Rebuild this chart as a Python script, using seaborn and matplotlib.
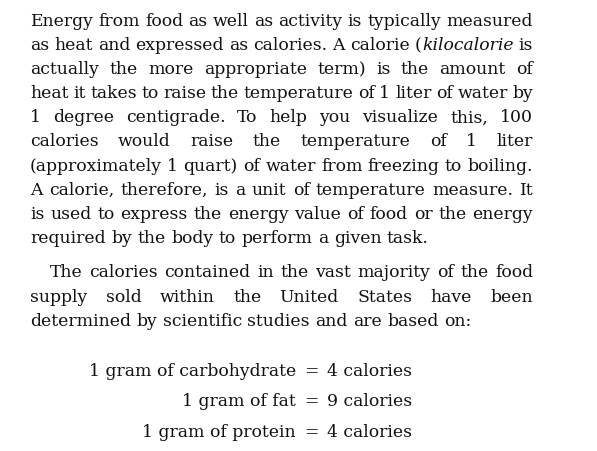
import matplotlib
matplotlib.use("Agg")
import matplotlib.pyplot as plt
import seaborn as sns

sns.set_theme(style="white")
plt.rcParams['font.family'] = ['DejaVu Serif']

para_lines = [
    ("Energy from food as well as activity is typically measured", True),
    ("as heat and expressed as calories. A calorie (*kilocalorie* is", True),
    ("actually the more appropriate term) is the amount of", True),
    ("heat it takes to raise the temperature of 1 liter of water by", True),
    ("1 degree centigrade. To help you visualize this, 100", True),
    ("calories would raise the temperature of 1 liter", True),
    ("(approximately 1 quart) of water from freezing to boiling.", True),
    ("A calorie, therefore, is a unit of temperature measure. It", True),
    ("is used to express the energy value of food or the energy", True),
    ("required by the body to perform a given task.", False),
]
para2_lines = [
    ("The calories contained in the vast majority of the food", True),
    ("supply sold within the United States have been", True),
    ("determined by scientific studies and are based on:", False),
]
nutrients = ["carbohydrate", "fat", "protein"]
calories = [4, 9, 4]

W, H = 597, 451
fig = plt.figure(figsize=(W / 100, H / 100), dpi=100)
fig.patch.set_facecolor("white")
r = fig.canvas.get_renderer()
FS = 12.4

def px(x, y):
    return x / W, 1 - y / H

def width(s, style):
    t = fig.text(0, 0, s, fontsize=FS, fontstyle=style)
    w = t.get_window_extent(r).width
    t.remove()
    return w

def draw_line(text, y, x0, x1, justify):
    words = text.split(" ")
    items = []
    for w in words:
        if w.startswith("(*") and w.endswith("*"):
            items.append([("(", "normal"), (w[2:-1], "italic")])
        else:
            items.append([(w, "normal")])
    widths = [sum(width(s, st) for s, st in it) for it in items]
    sp = width("a b", "normal") - width("ab", "normal")
    if justify and len(items) > 1:
        gap = (x1 - x0 - sum(widths)) / (len(items) - 1)
    else:
        gap = sp
    x = x0
    for it, wd in zip(items, widths):
        xx = x
        for s, st in it:
            fig.text(*px(xx, y), s, fontsize=FS, fontstyle=st, color="#111",
                     va="baseline", ha="left")
            xx += width(s, st)
        x += wd + gap

y = 26
for t, j in para_lines:
    draw_line(t, y, 30, 533, j)
    y += 24.1
y = 277
for i, (t, j) in enumerate(para2_lines):
    draw_line(t, y, 50 if i == 0 else 30, 533, j)
    y += 24.5

for i, (n, c) in enumerate(zip(nutrients, calories)):
    yy = 376 + i * 30.3
    fig.text(*px(296, yy), f"1 gram of {n}", fontsize=FS, ha="right", va="baseline", color="#111")
    fig.text(*px(311, yy), "=", fontsize=FS, ha="center", va="baseline", color="#111")
    fig.text(*px(327, yy), f"{c} calories", fontsize=FS, ha="left", va="baseline", color="#111")

fig.savefig("out.png", dpi=100, facecolor="white")
